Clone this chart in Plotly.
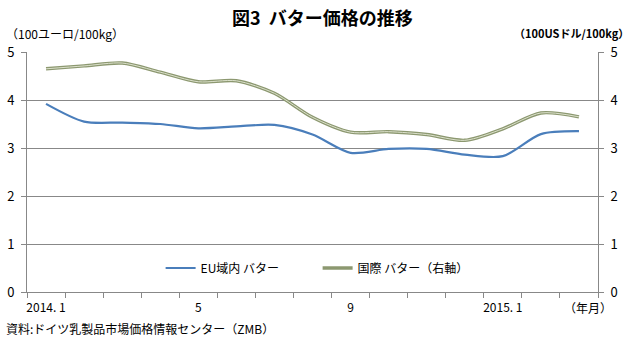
import plotly.graph_objects as go

# ---- data ----
months = ["2014-01", "2014-02", "2014-03", "2014-04", "2014-05", "2014-06", "2014-07",
          "2014-08", "2014-09", "2014-10", "2014-11", "2014-12", "2015-01", "2015-02", "2015-03"]
tick_labels = ["2014. 1", "", "", "", "5", "", "", "", "9", "", "", "", "2015. 1", "", ""]
eu_butter = [3.92, 3.55, 3.53, 3.50, 3.41, 3.45, 3.48, 3.28, 2.90, 2.98, 2.98, 2.86, 2.83, 3.29, 3.35]
intl_butter = [4.65, 4.71, 4.77, 4.58, 4.38, 4.40, 4.14, 3.64, 3.33, 3.34, 3.28, 3.16, 3.40, 3.73, 3.65]

FONT = "Noto Sans CJK JP"
GRID = "#888888"
BLUE = "#4A7EBB"
OLIVE = "#8C9870"
OLIVE_IN = "#DCE1CC"

fig = go.Figure()
fig.add_trace(go.Scatter(x=months, y=eu_butter, mode="lines", name="EU域内 バター",
                         line=dict(color=BLUE, width=2.2, shape="spline", smoothing=0.8)))
fig.add_trace(go.Scatter(x=months, y=intl_butter, mode="lines", name="国際 バター（右軸）",
                         yaxis="y2",
                         line=dict(color=OLIVE, width=3.4, shape="spline", smoothing=0.8)))
fig.add_trace(go.Scatter(x=months, y=intl_butter, mode="lines", showlegend=False,
                         yaxis="y2", hoverinfo="skip",
                         line=dict(color=OLIVE_IN, width=1.0, shape="spline", smoothing=0.8)))

fig.update_layout(
    width=633, height=346,
    margin=dict(l=27, r=35, t=52, b=54),
    paper_bgcolor="white", plot_bgcolor="white",
    font=dict(family=FONT, size=12, color="#000000"),
    showlegend=True,
    legend=dict(orientation="h", x=0.234, y=0.1, xanchor="left", yanchor="middle",
                font=dict(size=12, family=FONT), bgcolor="rgba(0,0,0,0)",
                entrywidth=112, entrywidthmode="pixels", itemwidth=30),
    xaxis=dict(type="category", categoryorder="array", categoryarray=months,
               tickmode="array", tickvals=months, ticktext=tick_labels, tickangle=0,
               tickson="boundaries", ticks="outside", ticklen=5, tickcolor=GRID,
               showline=True, linecolor=GRID, linewidth=1, showgrid=False,
               tickfont=dict(size=12, family=FONT), automargin=False, ticklabelstandoff=5,
               range=[-0.5, 14.5], fixedrange=True),
    yaxis=dict(range=[0, 5], dtick=1, ticks="outside", ticklen=5, tickcolor=GRID,
               showline=True, linecolor=GRID, linewidth=1,
               showgrid=True, gridcolor=GRID, gridwidth=1, zeroline=False,
               tickfont=dict(size=13, family=FONT), automargin=False, ticklabelstandoff=4),
    yaxis2=dict(range=[0, 5], dtick=1, overlaying="y", side="right",
                ticks="outside", ticklen=5, tickcolor=GRID,
                showline=True, linecolor=GRID, linewidth=1,
                showgrid=False, zeroline=False,
                tickfont=dict(size=13, family=FONT), automargin=False, ticklabelstandoff=4),
)

annotations = [
    dict(text="<b>図3  バター価格の推移</b>", x=323, y=346 - 17, font=dict(size=18), anchor="center"),
    dict(text="（100ユーロ/100kg）", x=4, y=346 - 33, font=dict(size=12), anchor="left"),
    dict(text="<b>（100USドル/100kg）</b>", x=631, y=346 - 33, font=dict(size=11), anchor="right"),
    dict(text="（年月）", x=588, y=346 - 307, font=dict(size=12), anchor="center"),
    dict(text="資料:ドイツ乳製品市場価格情報センター（ZMB）", x=4, y=346 - 328, font=dict(size=12), anchor="left"),
]
for a in annotations:
    fig.add_annotation(text=a["text"], xref="paper", yref="paper",
                       x=(a["x"] - 27) / 571, y=(a["y"] - 54) / 240,
                       xanchor=a["anchor"], yanchor="middle", showarrow=False, font=a["font"])

fig.write_html("out.html")
